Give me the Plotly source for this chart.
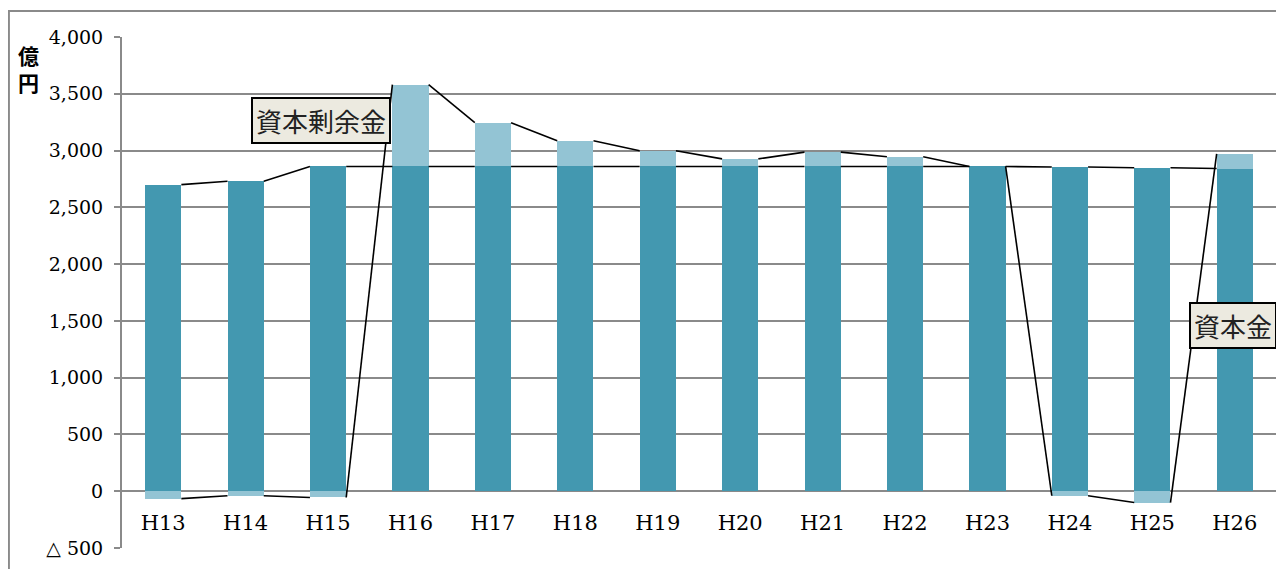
"""
Capital and capital surplus, H13-H26 (stacked bars with series lines).
"""
import plotly.graph_objects as go

years = ["H13", "H14", "H15", "H16", "H17", "H18", "H19",
         "H20", "H21", "H22", "H23", "H24", "H25", "H26"]
capital = [2700, 2730, 2860, 2860, 2860, 2860, 2860,
           2860, 2860, 2860, 2860, 2855, 2848, 2842]
surplus = [-65, -40, -55, 720, 385, 226, 138,
           67, 126, 85, 0, -40, -100, 128]

y_ticks = [-500, 0, 500, 1000, 1500, 2000, 2500, 3000, 3500, 4000]
y_ticktext = ["△ 500", "0", "500", "1,000", "1,500", "2,000",
              "2,500", "3,000", "3,500", "4,000"]

DARK = "#4398B0"
LIGHT = "#93C4D4"
GRID = "#8a8a8a"
SERIF = "DejaVu Serif"
CJK = "Noto Sans CJK JP"
BAR_W = 0.44

xs = list(range(len(years)))

fig = go.Figure()
fig.add_trace(go.Bar(x=xs, y=capital, width=BAR_W, name="資本金",
                     marker=dict(color=DARK, line=dict(width=0))))
fig.add_trace(go.Bar(x=xs, y=surplus, width=BAR_W, name="資本剰余金",
                     marker=dict(color=LIGHT, line=dict(width=0))))


def series_line(ends):
    """connect the end of a segment in one bar to the next bar (Excel series lines)"""
    lx, ly = [], []
    for i in range(len(ends) - 1):
        lx += [xs[i] + BAR_W / 2, xs[i + 1] - BAR_W / 2, None]
        ly += [ends[i], ends[i + 1], None]
    return lx, ly


cap_ends = capital
sur_ends = [c + s if s >= 0 else s for c, s in zip(capital, surplus)]
for ends in (cap_ends, sur_ends):
    lx, ly = series_line(ends)
    fig.add_trace(go.Scatter(x=lx, y=ly, mode="lines",
                             line=dict(color="black", width=1.6),
                             hoverinfo="skip"))

# the page body keeps its default 8px margin, so the figure is 8px smaller
fig.update_layout(
    width=1276,
    height=561,
    margin=dict(l=114, r=8, t=29, b=21, autoexpand=False),
    barmode="relative",
    bargap=0,
    showlegend=False,
    plot_bgcolor="white",
    paper_bgcolor="white",
)
fig.update_xaxes(
    range=[-0.5, len(years) - 0.5],
    tickvals=xs,
    ticktext=years,
    anchor="free",
    position=500 / 4500,
    showgrid=False,
    showline=False,
    zeroline=False,
    ticks="outside",
    ticklen=13,
    tickcolor="rgba(0,0,0,0)",
    tickfont=dict(family=SERIF, size=21, color="black"),
    automargin=False,
)
fig.update_yaxes(
    range=[-500, 4000],
    tickvals=y_ticks,
    ticktext=y_ticktext,
    showgrid=True,
    gridcolor=GRID,
    gridwidth=1.5,
    zeroline=False,
    showline=True,
    linecolor=GRID,
    linewidth=2,
    ticks="outside",
    ticklen=6,
    tickcolor=GRID,
    tickwidth=1.5,
    ticklabelstandoff=7,
    tickfont=dict(family=SERIF, size=19, color="black"),
    automargin=False,
)

# outer chart frame (only its top and left edges are inside the picture)
fig.add_shape(type="rect", xref="paper", yref="paper",
              x0=-0.098, x1=1.05, y0=-0.2, y1=1.051,
              line=dict(color=GRID, width=2), layer="below")

fig.add_annotation(xref="paper", yref="paper", x=-0.081, y=0.939,
                   xanchor="center", yanchor="middle",
                   text="<b>億<br>円</b>", showarrow=False,
                   font=dict(family=CJK, size=21, color="black"))

box = dict(showarrow=False, bgcolor="#ECEAE0", bordercolor="black",
           borderwidth=2, borderpad=3,
           font=dict(family=CJK, size=26, color="#222"))
fig.add_annotation(x=1.91, y=3262, text="資本剰余金", **box)
fig.add_annotation(x=12.98, y=1460, text="資本金", **box)

fig.write_html("out.html")
